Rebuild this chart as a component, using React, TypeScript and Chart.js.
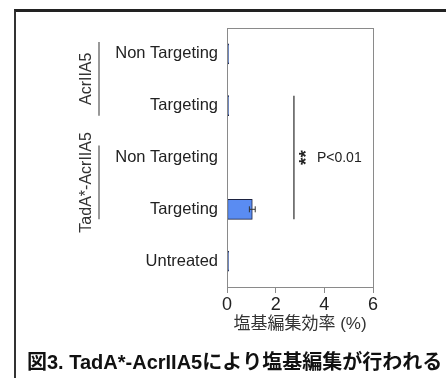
import React, { useEffect, useRef } from "react";
import { Chart, registerables } from "chart.js";

Chart.register(...registerables);

const categories = ["Non Targeting", "Targeting", "Non Targeting", "Targeting", "Untreated"];
const values = [0.07, 0.07, 0.02, 1.04, 0.07];
const errors = [0, 0, 0, 0.12, 0];
const xTicks = [0, 2, 4, 6];
const groups = [
  { label: "AcrIIA5", from: 0, to: 1 },
  { label: "TadA*-AcrIIA5", from: 2, to: 3 },
];
const sigX = 2.75;
const sigFrom = 1;
const sigTo = 3;
const sigText = "P<0.01";
const xTitle = "塩基編集効率 (%)";
const caption = "図3. TadA*-AcrIIA5により塩基編集が行われる";

const FONT = "'Liberation Sans', Arial, 'Noto Sans CJK JP', sans-serif";

const overlay = {
  id: "overlay",
  afterDatasetsDraw(chart: any) {
    const ctx = chart.ctx;
    const x = chart.scales.x;
    const y = chart.scales.y;
    const area = chart.chartArea;
    ctx.save();
    // plot box
    ctx.strokeStyle = "#8a8a8a";
    ctx.lineWidth = 1;
    ctx.strokeRect(area.left + 0.5, area.top + 0.5, area.right - area.left, area.bottom - area.top);
    // error bars
    ctx.strokeStyle = "#333";
    ctx.lineWidth = 1;
    values.forEach((v, i) => {
      const e = errors[i];
      if (!e) return;
      const cy = y.getPixelForValue(i);
      const x1 = x.getPixelForValue(v - e);
      const x2 = x.getPixelForValue(v + e);
      ctx.beginPath();
      ctx.moveTo(x1, cy);
      ctx.lineTo(x2, cy);
      ctx.moveTo(x1, cy - 3);
      ctx.lineTo(x1, cy + 3);
      ctx.moveTo(x2, cy - 3);
      ctx.lineTo(x2, cy + 3);
      ctx.stroke();
    });
    // significance bracket
    const sx = x.getPixelForValue(sigX);
    const sy1 = y.getPixelForValue(sigFrom) - 10;
    const sy2 = y.getPixelForValue(sigTo) + 10;
    ctx.strokeStyle = "#555";
    ctx.lineWidth = 1.5;
    ctx.beginPath();
    ctx.moveTo(sx, sy1);
    ctx.lineTo(sx, sy2);
    ctx.stroke();
    const my = (sy1 + sy2) / 2;
    ctx.fillStyle = "#222";
    ctx.save();
    ctx.translate(sx + 9, my);
    ctx.rotate(-Math.PI / 2);
    ctx.font = `bold 19px ${FONT}`;
    ctx.textAlign = "center";
    ctx.textBaseline = "middle";
    ctx.fillText("**", 0, 4);
    ctx.restore();
    ctx.font = `14px ${FONT}`;
    ctx.textAlign = "left";
    ctx.textBaseline = "middle";
    ctx.fillText(sigText, sx + 23, my + 1);
    // group labels
    groups.forEach((g) => {
      const y1 = y.getPixelForValue(g.from) - 12;
      const y2 = y.getPixelForValue(g.to) + 10;
      ctx.strokeStyle = "#555";
      ctx.lineWidth = 1.2;
      ctx.beginPath();
      ctx.moveTo(99, y1);
      ctx.lineTo(99, y2);
      ctx.stroke();
      ctx.save();
      ctx.translate(87, (y1 + y2) / 2);
      ctx.rotate(-Math.PI / 2);
      ctx.font = `16px ${FONT}`;
      ctx.fillStyle = "#333";
      ctx.textAlign = "center";
      ctx.textBaseline = "middle";
      ctx.fillText(g.label, 0, 0);
      ctx.restore();
    });
    // caption
    ctx.font = `bold 20px ${FONT}`;
    ctx.fillStyle = "#111";
    ctx.textAlign = "left";
    ctx.textBaseline = "middle";
    ctx.fillText(caption, 27, 363);
    ctx.restore();
  },
};

export default function App() {
  const ref = useRef<HTMLCanvasElement>(null);
  useEffect(() => {
    if (!ref.current) return;
    const chart = new Chart(ref.current, {
      type: "bar",
      data: {
        labels: categories,
        datasets: [
          {
            data: values,
            backgroundColor: "#5a8cf2",
            borderColor: "#1c2240",
            borderWidth: 1,
            borderSkipped: false,
            barThickness: 20,
          },
        ],
      },
      options: {
        indexAxis: "y",
        responsive: false,
        animation: false,
        devicePixelRatio: 1,
        layout: { padding: { left: 0, top: 28, right: 73, bottom: 40 } },
        plugins: { legend: { display: false }, tooltip: { enabled: false } },
        scales: {
          x: {
            min: 0,
            max: 6,
            afterFit: (s: any) => {
              s.height = 51;
            },
            afterBuildTicks: (s: any) => {
              s.ticks = xTicks.map((v) => ({ value: v }));
            },
            grid: { drawOnChartArea: false, drawTicks: true, tickLength: 6, color: "#8a8a8a" },
            border: { display: true, color: "#8a8a8a" },
            ticks: { font: { size: 18, family: FONT }, color: "#222", padding: 1 },
            title: {
              display: true,
              text: xTitle,
              font: { size: 17, family: FONT },
              color: "#333",
              padding: { top: 0, bottom: 3 },
            },
          },
          y: {
            afterFit: (s: any) => {
              s.width = 227;
            },
            grid: { display: false, drawTicks: false },
            border: { display: true, color: "#8a8a8a" },
            ticks: { font: { size: 16.5, family: FONT }, color: "#222", padding: 9 },
          },
        },
      },
      plugins: [overlay],
    });
    return () => chart.destroy();
  }, []);
  return (
    <div style={{ position: "fixed", left: 0, top: 0, width: 446, height: 378, background: "#fff", overflow: "hidden" }}>
      <div
        style={{
          position: "absolute",
          left: 14,
          top: 9,
          width: 460,
          height: 400,
          borderTop: "3px solid #222",
          borderLeft: "2px solid #333",
        }}
      />
      <canvas ref={ref} width={446} height={378} style={{ position: "absolute", left: 0, top: 0 }} />
    </div>
  );
}
